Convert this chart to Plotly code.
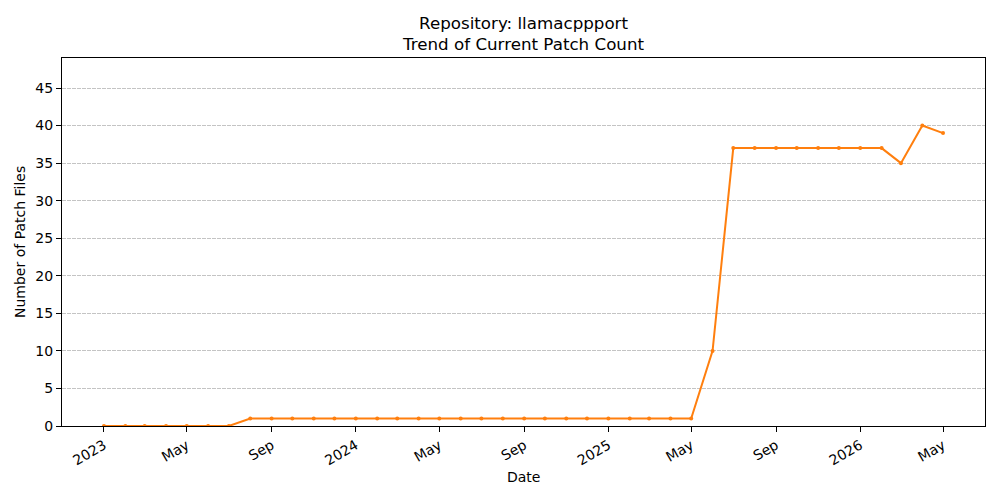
import pandas as pd
import plotly.graph_objects as go

# monthly patch counts, Jan 2023 .. May 2026
months = pd.date_range("2023-01-01", "2026-05-01", freq="MS")
patch_counts = [0, 0, 0, 0, 0, 0, 0,
                1, 1, 1, 1, 1, 1, 1, 1, 1, 1, 1, 1, 1, 1, 1, 1, 1, 1, 1, 1, 1, 1,
                10, 37, 37, 37, 37, 37, 37, 37, 37, 35, 40, 39]

tick_dates = ["2023-01-01", "2023-05-01", "2023-09-01", "2024-01-01", "2024-05-01",
              "2024-09-01", "2025-01-01", "2025-05-01", "2025-09-01", "2026-01-01",
              "2026-05-01"]
tick_text = ["2023", "May", "Sep", "2024", "May", "Sep", "2025", "May", "Sep", "2026", "May"]

repo = "llamacppport"

font = "DejaVu Sans"

# matplotlib-like 5% padding on the date axis
pad = (months[-1] - months[0]) * 0.05
x_range = [months[0] - pad, months[-1] + pad]

fig = go.Figure()
fig.add_trace(go.Scatter(
    x=months, y=patch_counts, mode="lines+markers",
    line=dict(color="#ff7f0e", width=2),
    marker=dict(color="#ff7f0e", size=4),
    showlegend=False))

# page body has an 8px margin, so the figure is a bit smaller than the window
fig.update_layout(
    width=992, height=492,
    paper_bgcolor="white", plot_bgcolor="white",
    margin=dict(l=54, r=15, t=50, b=74),
    font=dict(family=font, size=14, color="black"),
    title=dict(text="Repository: " + repo + "<br>Trend of Current Patch Count",
               x=0.5197, xanchor="center", y=0.958, yanchor="middle",
               font=dict(size=16.7)),
)

# axis titles placed by hand
fig.add_annotation(text="Date", xref="paper", yref="paper", x=0.5, y=-0.1386,
                   xanchor="center", yanchor="middle", showarrow=False,
                   font=dict(size=14))
fig.add_annotation(text="Number of Patch Files", xref="paper", yref="paper",
                   x=-0.0455, y=0.5, xanchor="center", yanchor="middle",
                   textangle=-90, showarrow=False, font=dict(size=14))

fig.update_xaxes(
    range=x_range, tickvals=tick_dates, ticktext=tick_text, tickangle=-30,
    showline=True, linecolor="black", linewidth=1, mirror=True,
    ticks="outside", ticklen=5, tickcolor="black", showgrid=False,
    automargin=False, tickfont=dict(size=14))

fig.update_yaxes(
    range=[0, 49], tickvals=list(range(0, 50, 5)),
    showline=True, linecolor="black", linewidth=1, mirror=True,
    ticks="outside", ticklen=5, tickcolor="black",
    showgrid=True, gridcolor="#c4c4c4", gridwidth=0.6, griddash="3.5px,1.5px",
    zeroline=False, automargin=False, tickfont=dict(size=14))

fig.write_html("out.html")
